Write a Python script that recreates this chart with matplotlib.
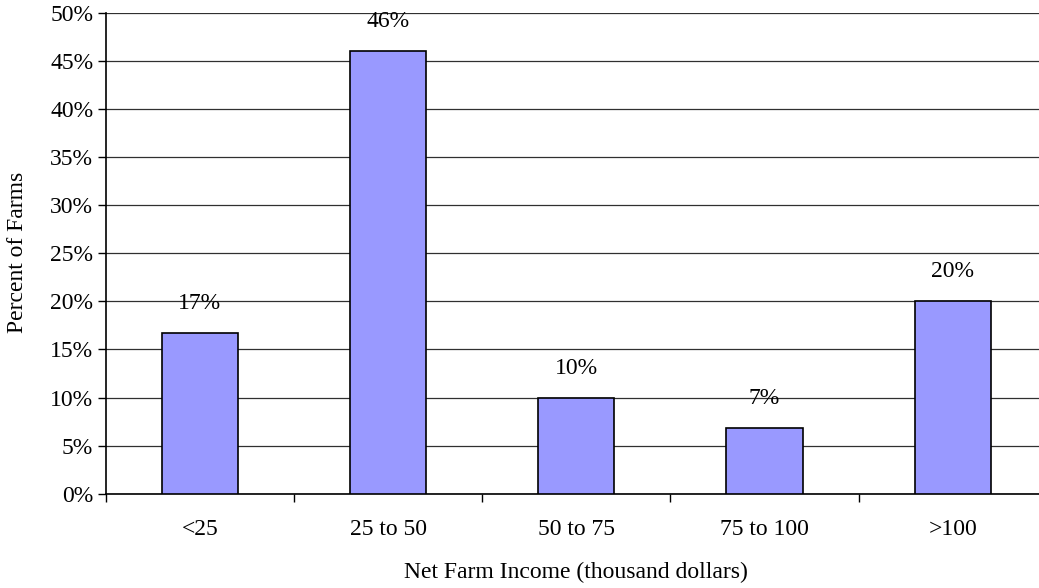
import matplotlib.pyplot as plt
import numpy as np
from matplotlib.ticker import FixedLocator, FuncFormatter

plt.rcParams['font.family'] = ['Liberation Serif', 'DejaVu Serif']

categories = ["<25", "25 to 50", "50 to 75", "75 to 100", ">100"]
percent_farms = [16.7, 46.0, 9.9, 6.8, 20.0]

fs = 17

fig = plt.figure(figsize=(10.39, 5.88), dpi=100)
ax = fig.add_axes([0.1017, 0.1604, 0.906, 0.8176])

x = np.arange(len(categories))
bars = ax.bar(x, percent_farms, width=0.405, color="#9999FF",
              edgecolor="black", linewidth=1.2, zorder=3)

for xi, v in zip(x, percent_farms):
    ax.annotate(f"{v:.0f}%", (xi, v), xytext=(0, 21.5), textcoords="offset points",
                ha="center", va="center", fontsize=fs)

ax.set_xlim(-0.5, 4.5)
ax.set_ylim(0, 50)
ax.set_yticks(np.arange(0, 51, 5))
ax.yaxis.set_major_formatter(FuncFormatter(lambda v, p: f"{v:.0f}%"))
ax.set_xticks(x)
ax.set_xticklabels(categories)
ax.xaxis.set_minor_locator(FixedLocator(np.arange(-0.5, 4.6, 1)))
ax.tick_params(axis="x", which="major", length=0, pad=18, labelsize=fs)
ax.tick_params(axis="x", which="minor", length=6, width=1, direction="out")
ax.tick_params(axis="y", length=6, width=1, direction="out", pad=3, labelsize=fs)

ax.grid(axis="y", color="#303030", linewidth=0.9, zorder=0)
for s in ["top", "right"]:
    ax.spines[s].set_visible(False)
ax.spines["left"].set_linewidth(1.2)
ax.spines["bottom"].set_linewidth(1.2)

fig.text(0.0165, 0.57, "Percent of Farms", rotation=90, ha="center", va="center",
         fontsize=fs)
fig.text(0.554, 0.027, "Net Farm Income (thousand dollars)", ha="center", va="center",
         fontsize=fs)

fig.savefig("out.png", dpi=100)
